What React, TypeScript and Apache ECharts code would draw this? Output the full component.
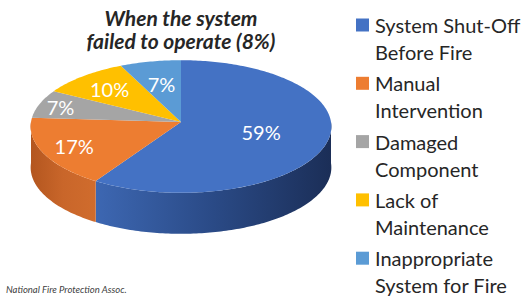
import React, { useEffect, useRef } from "react";
import * as echarts from "echarts";

const categories = [
  "System Shut-Off\nBefore Fire",
  "Manual\nIntervention",
  "Damaged\nComponent",
  "Lack of\nMaintenance",
  "Inappropriate\nSystem for Fire",
];
const values = [59, 17, 7, 10, 7];
const titleText = "When the system\nfailed to operate (8%)";
const sourceText = "National Fire Protection Assoc.";

const topColors = ["#4472C4", "#ED7D31", "#A5A5A5", "#FFC000", "#5B9BD5"];
const sideStops = [
  ["#3d67b2", "#2a4a86", "#1b2e57"],
  ["#b3561f", "#c9662a", "#d06c2d"],
  ["#858585", "#8a8a8a", "#909090"],
  ["#cc9a00", "#d4a000", "#d9a400"],
  ["#4a80b3", "#4d84b8", "#5088bc"],
];
const labelFactor = [0.55, 0.78, 0.85, 0.72, 0.62];

// layout
const CX = 181;
const CY = 122;
const RX = 150;
const RY = 66;
const K = 0.068;
const DEPTH = 41;

function proj(deg: number, r = 1, dz = 0): number[] {
  const t = (deg * Math.PI) / 180;
  const u = r * Math.sin(t);
  const v = -r * Math.cos(t);
  const s = 1 / (1 - K * v);
  return [CX + RX * u * s, CY + RY * v * s + dz];
}

function arc(a: number, b: number, dz = 0): number[][] {
  const pts: number[][] = [];
  const n = Math.max(2, Math.ceil(Math.abs(b - a)));
  for (let i = 0; i <= n; i++) pts.push(proj(a + ((b - a) * i) / n, 1, dz));
  return pts;
}

export default function App() {
  const ref = useRef<HTMLDivElement>(null);
  useEffect(() => {
    document.body.style.margin = "0";
    const chart = echarts.init(ref.current!, null, { renderer: "svg" });
    const total = values.reduce((s, v) => s + v, 0);
    const starts: number[] = [];
    let acc = 0;
    values.forEach((v) => {
      starts.push((acc / total) * 360);
      acc += v;
    });

    const legendEls: any[] = [];
    categories.forEach((c, i) => {
      const y0 = 25 + i * 58.3;
      legendEls.push({
        type: "rect",
        shape: { x: 356, y: y0 - 6.5, width: 13, height: 13 },
        style: { fill: topColors[i] },
      });
      legendEls.push({
        type: "text",
        x: 375,
        y: y0 - 13.5,
        style: {
          text: c,
          font: "20px Lato",
          lineHeight: 27,
          fill: "#262626",
          textAlign: "left",
          textVerticalAlign: "top",
        },
      });
    });

    chart.setOption({
      animation: false,
      series: [
        {
          type: "custom",
          coordinateSystem: "none",
          data: values.map((v, i) => ({ name: categories[i], value: [v, i] })),
          renderItem: (params: any, api: any) => {
            const i = params.dataIndex;
            const v = api.value(0);
            const a = starts[i];
            const b = a + (v / total) * 360;
            const children: any[] = [];
            const sa = Math.max(a, 90);
            const sb = Math.min(b, 270);
            if (sa < sb) {
              const top = arc(sa, sb, 0);
              const bot = arc(sb, sa, DEPTH);
              children.push({
                type: "polygon",
                shape: { points: top.concat(bot) },
                style: {
                  fill: new echarts.graphic.LinearGradient(0, 0, 1, 0, [
                    { offset: 0, color: sideStops[i][0] },
                    { offset: 0.5, color: sideStops[i][1] },
                    { offset: 1, color: sideStops[i][2] },
                  ]),
                },
              });
            }
            children.push({
              type: "polygon",
              shape: { points: [[CX, CY]].concat(arc(a, b, 0)) },
              style: { fill: topColors[i] },
            });
            const mid = (a + b) / 2;
            const lp = proj(mid, labelFactor[i]);
            children.push({
              type: "text",
              style: {
                text: v + "%",
                x: lp[0],
                y: lp[1],
                fill: "#ffffff",
                font: "20px Lato",
                textAlign: "center",
                textVerticalAlign: "middle",
              },
            });
            return { type: "group", children };
          },
        },
      ],
      graphic: [
        {
          type: "text",
          x: 181,
          y: 6,
          style: {
            text: titleText,
            font: "italic bold 21px Lato",
            lineHeight: 23,
            fill: "#262626",
            textAlign: "center",
            textVerticalAlign: "top",
          },
        },
        {
          type: "text",
          x: 6,
          y: 289,
          style: {
            text: sourceText,
            font: "italic 9.5px Lato",
            fill: "#404040",
            textAlign: "left",
            textVerticalAlign: "middle",
          },
        },
        ...legendEls,
      ],
    });
    return () => chart.dispose();
  }, []);
  return <div ref={ref} style={{ width: 524, height: 296 }} />;
}
